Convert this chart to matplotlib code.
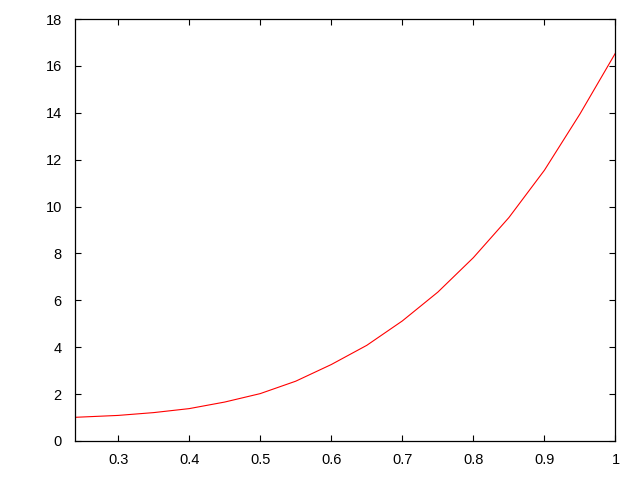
import matplotlib
matplotlib.use("Agg")
import matplotlib.pyplot as plt
from matplotlib.ticker import FormatStrFormatter

# values
x = [0.24, 0.30, 0.35, 0.40, 0.45, 0.50, 0.55, 0.60, 0.65, 0.70,
     0.75, 0.80, 0.85, 0.90, 0.95, 1.00]
y = [1.01, 1.09, 1.21, 1.38, 1.66, 2.02, 2.55, 3.26, 4.08, 5.12,
     6.35, 7.82, 9.53, 11.55, 13.95, 16.55]

xticks = [0.3, 0.4, 0.5, 0.6, 0.7, 0.8, 0.9, 1.0]
yticks = [0, 2, 4, 6, 8, 10, 12, 14, 16, 18]

plt.rcParams['font.family'] = ['Liberation Sans', 'DejaVu Sans']

fig = plt.figure(figsize=(6.4, 4.8), dpi=100)
ax = fig.add_axes([0.1172, 0.0813, 0.8445, 0.8791])

ax.plot(x, y, color='red', linewidth=0.8)

ax.set_xlim(0.2394, 1.0)
ax.set_ylim(0, 18)
ax.set_xticks(xticks)
ax.set_yticks(yticks)
ax.xaxis.set_major_formatter(FormatStrFormatter('%g'))

ax.tick_params(direction='in', length=4, width=0.8, top=True, right=True,
               labelsize=10.5, colors='black')
ax.tick_params(axis='x', pad=8.5)
ax.tick_params(axis='y', pad=9.5)
for s in ax.spines.values():
    s.set_linewidth(0.9)

fig.savefig('out.png', dpi=100)
